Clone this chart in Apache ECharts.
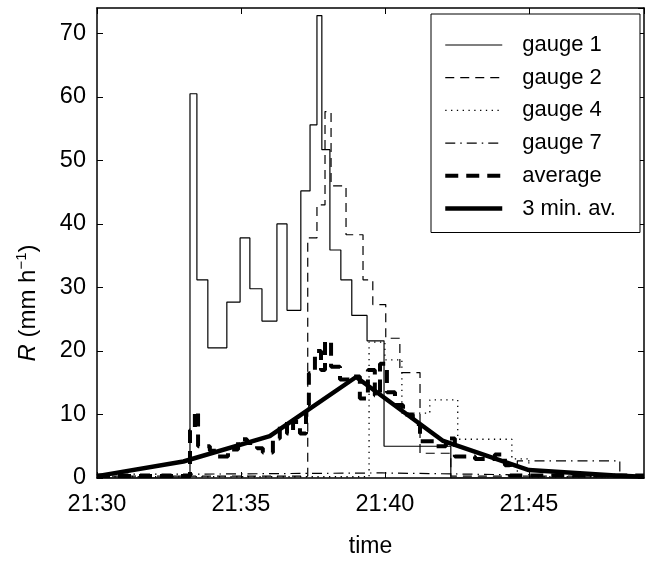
<!DOCTYPE html>
<html>
<head>
<meta charset="utf-8">
<script src="https://cdn.jsdelivr.net/npm/echarts@6/dist/echarts.min.js"></script>
<style>
html,body{margin:0;padding:0;background:#fff;}
#chart{width:647px;height:563px;}
</style>
</head>
<body>
<div id="chart"></div>
<script>
// time in minutes after 21:30, rate in mm/h (value holds from time until next time)
const g1Time = [0, 3.23, 3.47, 3.85, 4.51, 4.97, 5.31, 5.73, 6.25, 6.60, 7.08, 7.40, 7.64, 7.81, 8.09, 8.47, 8.85, 9.38, 9.97, 12.29, 19];
const g1Rate = [0, 60.5, 31.2, 20.5, 27.7, 37.8, 29.8, 24.7, 40.0, 26.4, 45.2, 55.6, 72.8, 51.7, 35.9, 31.2, 25.6, 21.6, 5.0, 0, 0];

const g2Time = [0, 7.32, 7.64, 7.92, 8.13, 8.65, 9.24, 9.58, 10.03, 10.52, 11.22, 12.29, 19];
const g2Rate = [0.3, 37.8, 43.0, 57.7, 46.0, 38.3, 31.2, 27.3, 22.0, 16.6, 3.9, 0.3, 0.3];

const g4Time = [0, 9.45, 10.0, 10.59, 11.56, 12.53, 14.41, 15.0, 19];
const g4Rate = [0.2, 21.4, 18.6, 10.2, 12.3, 6.1, 3.0, 0.2, 0.2];

const g7Time = [0, 3.2, 9.9, 14.6, 18.16, 19];
const g7Rate = [0.6, 0.8, 0.5, 2.7, 0.3, 0.3];

const avgTime = [0, 3.23, 3.40, 3.51, 3.92, 4.17, 4.55, 4.90, 5.21, 5.56, 5.76, 6.11, 6.35, 6.60, 6.81, 7.05, 7.26, 7.36, 7.57, 7.78, 7.92, 8.13, 8.44, 8.78, 9.13, 9.41, 9.65, 9.83, 10.07, 10.35, 10.63, 10.97, 11.22, 11.74, 12.12, 12.43, 13.13, 13.82, 14.17, 14.34, 19];
const avgRate = [0.3, 7.5, 10.5, 5.0, 4.3, 3.4, 4.5, 6.1, 5.5, 4.7, 4.0, 6.2, 8.5, 7.0, 8.8, 7.0, 11.5, 16.5, 20.0, 17.0, 21.5, 17.5, 15.5, 16.0, 12.5, 17.0, 13.0, 18.0, 13.5, 11.5, 10.0, 8.5, 5.8, 5.0, 6.2, 3.4, 3.0, 3.7, 2.0, 0.4, 0.3];

const av3Time = [0, 3, 6, 9, 12, 15, 18, 19];
const av3Rate = [0.3, 2.6, 6.6, 15.9, 5.9, 1.25, 0.4, 0.2];

const xTickLabels = ['21:30', '21:35', '21:40', '21:45'];
const yTickLabels = ['0', '10', '20', '30', '40', '50', '60', '70'];
const seriesNames = ['gauge 1', 'gauge 2', 'gauge 4', 'gauge 7', 'average', '3 min. av.'];

function zip(t, v) { return t.map((x, i) => [x, v[i]]); }

const FONT = 'Liberation Sans, Arial, Helvetica, sans-serif';
const chart = echarts.init(document.getElementById('chart'), null, {renderer: 'canvas'});

const axisLine = {show: true, onZero: false, lineStyle: {color: '#000', width: 1.5}};
const axisTick = {show: true, inside: true, length: 6, lineStyle: {color: '#000', width: 1}};

function xFmt(v) {
  const i = Math.round(v / 5);
  return (Math.abs(v - i * 5) < 1e-6 && i < xTickLabels.length) ? xTickLabels[i] : '';
}
function yFmt(v) {
  const i = Math.round(v / 10);
  return (Math.abs(v - i * 10) < 1e-6 && i < yTickLabels.length) ? yTickLabels[i] : '';
}

function lineSeries(name, data, width, type, z) {
  return {
    name: name, type: 'line', data: data, step: 'end', symbol: 'none',
    xAxisIndex: 0, yAxisIndex: 0, z: z,
    lineStyle: {color: '#000', width: width, type: type, cap: 'butt'},
    itemStyle: {color: '#000'},
    emphasis: {disabled: true},
    animation: false
  };
}

const option = {
  backgroundColor: '#fff',
  animation: false,
  textStyle: {fontFamily: FONT, color: '#000'},
  grid: {left: 97, right: 3, top: 8, bottom: 81, containLabel: false},
  legend: {
    orient: 'vertical', left: 431, top: 14,
    data: seriesNames,
    itemWidth: 57, itemHeight: 14, itemGap: 10.7,
    padding: [20, 24, 13, 12],
    borderColor: '#000', borderWidth: 1, backgroundColor: '#fff',
    selectedMode: false,
    itemStyle: {opacity: 0},
    lineStyle: {width: 'inherit', type: 'inherit', color: 'inherit'},
    textStyle: {fontSize: 22, color: '#000', fontFamily: FONT, padding: [0, 0, 0, 15]}
  },
  xAxis: [
    {
      type: 'value', position: 'bottom', min: 0, max: 19, interval: 5,
      axisLine: axisLine, axisTick: axisTick, splitLine: {show: false},
      axisLabel: {fontSize: 23.5, color: '#000', margin: 15, formatter: xFmt, showMaxLabel: false, fontFamily: FONT},
      name: 'time', nameLocation: 'middle', nameGap: 57,
      nameTextStyle: {fontSize: 23, color: '#000', fontFamily: FONT}
    },
    {
      type: 'value', position: 'top', min: 0, max: 19, interval: 5,
      axisLine: axisLine, axisTick: axisTick, splitLine: {show: false},
      axisLabel: {show: false}
    }
  ],
  yAxis: [
    {
      type: 'value', position: 'left', min: 0, max: 74, interval: 10,
      axisLine: axisLine, axisTick: axisTick, splitLine: {show: false},
      axisLabel: {fontSize: 23.5, color: '#000', margin: 11, formatter: yFmt, showMaxLabel: false, fontFamily: FONT},
      name: '{i|R} (mm h{s|−1})', nameLocation: 'middle', nameGap: 55,
      nameTextStyle: {
        fontSize: 24, color: '#000', fontFamily: FONT, padding: [0, 120, 0, 0],
        rich: {
          i: {fontStyle: 'italic', fontSize: 24, color: '#000', fontFamily: FONT},
          s: {fontSize: 15, color: '#000', fontFamily: FONT, padding: [0, 0, 13, 0]}
        }
      }
    },
    {
      type: 'value', position: 'right', min: 0, max: 74, interval: 10,
      axisLine: axisLine, axisTick: axisTick, splitLine: {show: false},
      axisLabel: {show: false}
    }
  ],
  series: [
    lineSeries(seriesNames[0], zip(g1Time, g1Rate), 1.2, 'solid', 3),
    lineSeries(seriesNames[1], zip(g2Time, g2Rate), 1.2, [9, 6], 3),
    lineSeries(seriesNames[2], zip(g4Time, g4Rate), 1.3, [1.3, 4.5], 3),
    lineSeries(seriesNames[3], zip(g7Time, g7Rate), 1.2, [10, 5, 1.5, 5], 3),
    lineSeries(seriesNames[4], zip(avgTime, avgRate), 4, [13, 8], 4),
    Object.assign(lineSeries(seriesNames[5], zip(av3Time, av3Rate), 4.5, 'solid', 5), {step: false})
  ]
};
chart.setOption(option);
</script>
</body>
</html>
